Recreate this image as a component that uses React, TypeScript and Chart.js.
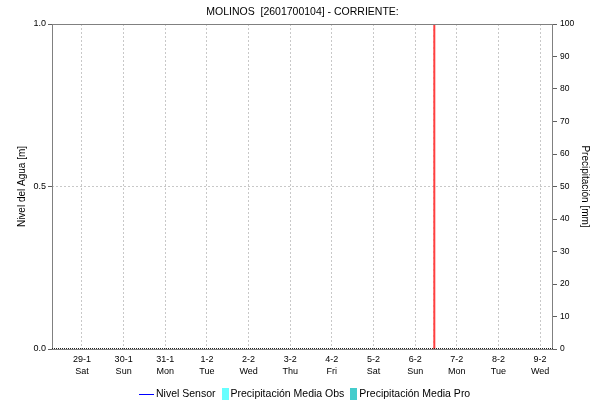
import React, { useEffect, useRef } from "react";
import { Chart, registerables } from "chart.js";

Chart.register(...registerables);

const titleText = "MOLINOS  [2601700104] - CORRIENTE:";
const leftTitle = "Nivel del Agua [m]";
const rightTitle = "Precipitación [mm]";
const dayLabels = ["29-1", "30-1", "31-1", "1-2", "2-2", "3-2", "4-2", "5-2", "6-2", "7-2", "8-2", "9-2"];
const weekdays = ["Sat", "Sun", "Mon", "Tue", "Wed", "Thu", "Fri", "Sat", "Sun", "Mon", "Tue", "Wed"];
const levelTicks = [0, 0.5, 1];
const precipTicks = [0, 10, 20, 30, 40, 50, 60, 70, 80, 90, 100];
// series (no data in the reference period)
const nivelSensor: { x: number; y: number }[] = [];
const precipObs: { x: number; y: number }[] = [];
const precipPro: { x: number; y: number }[] = [];
// current-time marker, in days after the 29-1 tick
const nowMarker = 8.46;
const xMin = -0.72;
const xMax = 11.31;

const legendItems = [
  { label: "Nivel Sensor", kind: "line", color: "#0000ff" },
  { label: "Precipitación Media Obs", kind: "box", color: "#66ffff" },
  { label: "Precipitación Media Pro", kind: "box", color: "#44cccc" },
];

const FONT = "'Liberation Sans', Arial, sans-serif";

const decorPlugin = {
  id: "decor",
  afterDraw(chart: any) {
    const { ctx, chartArea } = chart;
    const { left, right, top, bottom } = chartArea;
    ctx.save();
    // frame
    ctx.strokeStyle = "#808080";
    ctx.lineWidth = 1;
    ctx.setLineDash([]);
    ctx.strokeRect(Math.round(left) + 0.5, Math.round(top) + 0.5, Math.round(right - left) - 1, Math.round(bottom - top));
    // dotted bottom baseline
    ctx.strokeStyle = "#202020";
    ctx.setLineDash([1, 1]);
    ctx.beginPath();
    ctx.moveTo(left, Math.round(bottom) - 0.5);
    ctx.lineTo(right, Math.round(bottom) - 0.5);
    ctx.stroke();
    ctx.setLineDash([]);

    // title
    ctx.fillStyle = "#000";
    ctx.font = `10.5px ${FONT}`;
    ctx.textAlign = "center";
    ctx.textBaseline = "middle";
    ctx.fillText(titleText, (left + right) / 2, 12.5);

    // axis titles
    ctx.font = `10px ${FONT}`;
    const midY = (top + bottom) / 2;
    ctx.save();
    ctx.translate(22, midY);
    ctx.rotate(-Math.PI / 2);
    ctx.fillText(leftTitle, 0, 0);
    ctx.restore();
    ctx.save();
    ctx.translate(585, midY);
    ctx.rotate(Math.PI / 2);
    ctx.fillText(rightTitle, 0, 0);
    ctx.restore();

    // legend
    ctx.font = `10.5px ${FONT}`;
    ctx.textAlign = "left";
    const ly = 394;
    const widths = legendItems.map((it) => {
      const sym = it.kind === "line" ? 17 : 9;
      return sym + ctx.measureText(it.label).width;
    });
    const gap = 6;
    const total = widths.reduce((a, b) => a + b, 0) + gap * (legendItems.length - 1);
    let x = Math.round((left + right) / 2 + 2 - total / 2);
    legendItems.forEach((it, i) => {
      if (it.kind === "line") {
        ctx.strokeStyle = it.color;
        ctx.lineWidth = 1;
        ctx.beginPath();
        ctx.moveTo(x, ly + 0.5);
        ctx.lineTo(x + 15, ly + 0.5);
        ctx.stroke();
        ctx.fillStyle = "#000";
        ctx.fillText(it.label, x + 17, ly);
      } else {
        ctx.fillStyle = it.color;
        ctx.fillRect(Math.round(x), ly - 6, 7, 12);
        ctx.fillStyle = "#000";
        ctx.fillText(it.label, x + 9, ly);
      }
      x += widths[i] + gap;
    });
    ctx.restore();
  },
};

export default function App() {
  const ref = useRef<HTMLCanvasElement | null>(null);
  useEffect(() => {
    if (!ref.current) return;
    const chart = new Chart(ref.current, {
      type: "line",
      data: {
        datasets: [
          {
            type: "line",
            label: "Nivel Sensor",
            data: nivelSensor,
            borderColor: "#0000ff",
            borderWidth: 1,
            pointRadius: 0,
            yAxisID: "y",
          },
          {
            type: "bar",
            label: "Precipitación Media Obs",
            data: precipObs,
            backgroundColor: "#66ffff",
            yAxisID: "y1",
          } as any,
          {
            type: "bar",
            label: "Precipitación Media Pro",
            data: precipPro,
            backgroundColor: "#44cccc",
            yAxisID: "y1",
          } as any,
          {
            type: "line",
            label: "now",
            data: [
              { x: nowMarker, y: 0 },
              { x: nowMarker, y: 1 },
            ],
            borderColor: "#ff4040",
            borderWidth: 2,
            pointRadius: 0,
            yAxisID: "y",
          },
          {
            type: "line",
            label: "now-ticks",
            data: [
              { x: nowMarker, y: 0 },
              { x: nowMarker, y: 1 },
            ],
            borderColor: "#cc0000",
            borderWidth: 1,
            borderDash: [2, 4],
            pointRadius: 0,
            yAxisID: "y",
          },
        ],
      },
      options: {
        animation: false,
        responsive: false,
        maintainAspectRatio: false,
        layout: { padding: { top: 24, bottom: 26, left: 0, right: 0 } },
        plugins: { legend: { display: false }, title: { display: false }, tooltip: { enabled: false } },
        scales: {
          x: {
            type: "linear",
            min: xMin,
            max: xMax,
            offset: false,
            afterBuildTicks: (s: any) => {
              s.ticks = dayLabels.map((_, i) => ({ value: i }));
            },
            afterFit: (s: any) => {
              s.height = 30;
            },
            ticks: {
              autoSkip: false,
              maxRotation: 0,
              padding: 4,
              color: "#000",
              font: { family: FONT, size: 9, lineHeight: 1.35 },
              callback: (v: any) => {
                const i = Math.round(Number(v));
                return [dayLabels[i], weekdays[i]];
              },
            },
            grid: { color: "#c8c8c8", drawTicks: false, lineWidth: 1, offset: false },
            border: { display: false, dash: [2, 2] },
          },
          y: {
            type: "linear",
            position: "left",
            min: 0,
            max: 1,
            afterBuildTicks: (s: any) => {
              s.ticks = levelTicks.map((v) => ({ value: v }));
            },
            afterFit: (s: any) => {
              s.width = 52;
            },
            ticks: {
              padding: 2,
              color: "#000",
              font: { family: FONT, size: 9 },
              callback: (v: any) => Number(v).toFixed(1),
            },
            grid: { color: "#c8c8c8", tickColor: "#606060", tickLength: 4, tickBorderDash: [] },
            border: { display: false, dash: [2, 2] },
          },
          y1: {
            type: "linear",
            position: "right",
            min: 0,
            max: 100,
            afterBuildTicks: (s: any) => {
              s.ticks = precipTicks.map((v) => ({ value: v }));
            },
            afterFit: (s: any) => {
              s.width = 37;
            },
            ticks: {
              padding: 3,
              color: "#000",
              font: { family: FONT, size: 8.5 },
            },
            grid: { drawOnChartArea: false, tickColor: "#606060", tickLength: 4 },
            border: { display: false },
          },
        },
      },
      plugins: [decorPlugin],
    } as any);
    return () => chart.destroy();
  }, []);
  return (
    <div style={{ position: "absolute", left: 0, top: 0, width: 590, height: 405, background: "#fff" }}>
      <canvas ref={ref} width={590} height={405} style={{ width: 590, height: 405 }} />
    </div>
  );
}
